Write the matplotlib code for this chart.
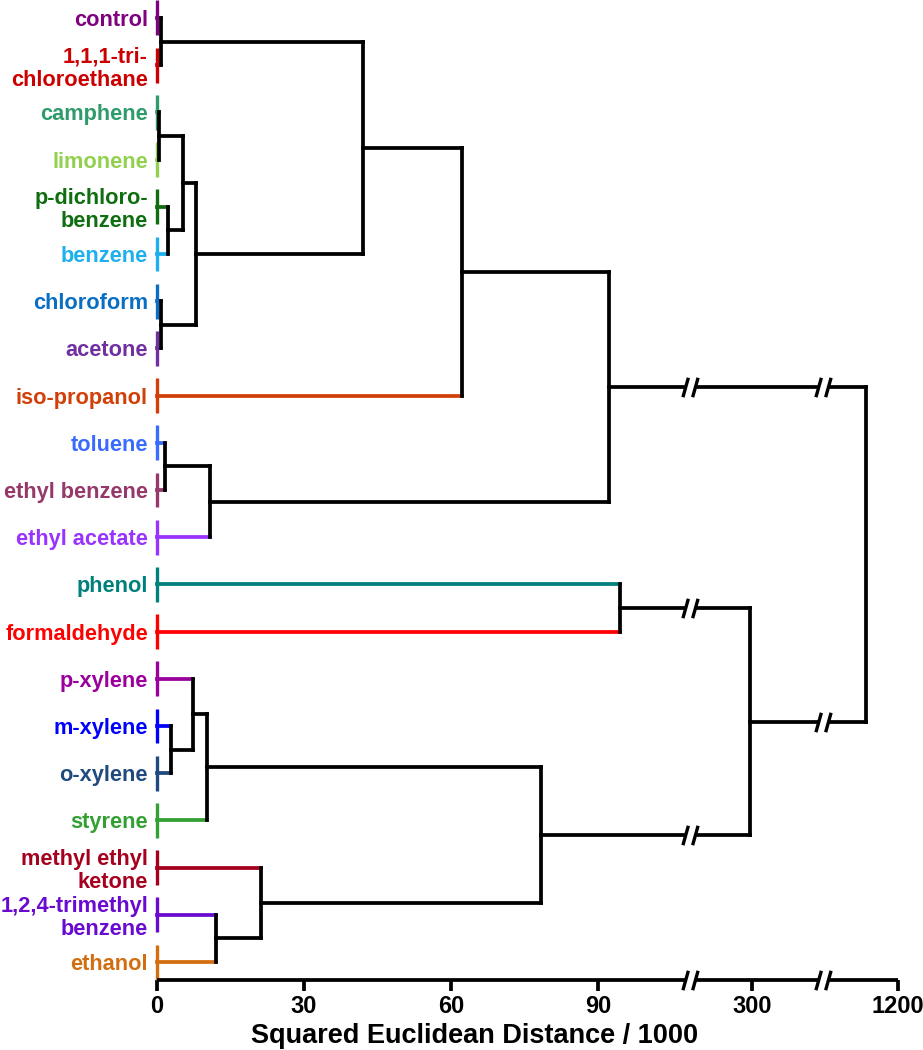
import matplotlib.pyplot as plt
from matplotlib.path import Path

plt.rcParams['font.family'] = ['Liberation Sans', 'DejaVu Sans']
plt.rcParams['font.weight'] = 'bold'

# compounds (top to bottom) and their colours
compounds = ['control', '1,1,1-tri-\nchloroethane', 'camphene', 'limonene',
             'p-dichloro-\nbenzene', 'benzene', 'chloroform', 'acetone',
             'iso-propanol', 'toluene', 'ethyl benzene', 'ethyl acetate',
             'phenol', 'formaldehyde', 'p-xylene', 'm-xylene', 'o-xylene',
             'styrene', 'methyl ethyl\nketone', '1,2,4-trimethyl\nbenzene', 'ethanol']
colors = ['#800080', '#CC0000', '#2E9B6A', '#92D050', '#0F6E0F', '#1EB0EE',
          '#0A6FC2', '#7030A0', '#D2400A', '#3A6BFF', '#96386A', '#9933FF',
          '#00807A', '#FF0000', '#99009C', '#0000FF', '#1F4A80', '#33A033',
          '#A5001E', '#6A0AD0', '#D36E10']

# linkage: clusters numbered from 21 upwards, height = squared euclidean distance / 1000
merge_a = [0, 2, 4, 22, 6, 24, 21, 27, 9, 29, 28, 12, 15, 14, 34, 19, 18, 35, 32, 31]
merge_b = [1, 3, 5, 23, 7, 25, 26, 8, 10, 11, 30, 13, 16, 33, 17, 20, 36, 37, 38, 39]
merge_h = [0.8, 0.4, 2.2, 5.3, 0.8, 8.0, 42.0, 62.2, 1.6, 10.8, 92.2, 94.5,
           2.9, 7.3, 10.2, 12.0, 21.2, 78.4, 296, 875]

# broken axis: (first value, last value, start on plot, units per value)
segments = [(0, 106, 0.0, 1.0), (201, 418, 111.5, 0.1), (570, 1200, 138.6, 0.02)]
tick_vals = [0, 30, 60, 90, 300, 1200]


def to_u(d):
    for lo, hi, start, k in segments:
        if d <= hi:
            return start + (d - lo) * k
    lo, hi, start, k = segments[-1]
    return start + (d - lo) * k


seg_u = [(start, start + (hi - lo) * k) for lo, hi, start, k in segments]
breaks = [(seg_u[i][1] + seg_u[i + 1][0]) / 2 for i in range(len(seg_u) - 1)]

slash = Path([(-0.78, -1), (-0.22, 1), (0.22, -1), (0.78, 1)],
             [Path.MOVETO, Path.LINETO, Path.MOVETO, Path.LINETO])

fig = plt.figure(figsize=(9.23, 10.5), dpi=100)
ax = fig.add_axes([157 / 923, 70 / 1050, 741 / 923, 980 / 1050])

n = len(compounds)
LW = 2.7


def put_breaks(u0, u1, y):
    for b in breaks:
        if min(u0, u1) < b < max(u0, u1):
            ax.plot(b, y, marker='s', ms=6.5, mfc='white', mec='none',
                    ls='none', zorder=6, clip_on=False)
            ax.plot(b, y, marker=slash, ms=14, mec='black', mew=2.4,
                    ls='none', zorder=7, clip_on=False)


# leaves: coloured replicate bars
node_y = {}
node_u = {}
for i in range(n):
    node_y[i] = i
    node_u[i] = 0.0
    ax.plot([0, 0], [i - 0.37, i + 0.37], color=colors[i], lw=2.4,
            solid_capstyle='butt', clip_on=False, zorder=3)

# links
for j, (a, b, h) in enumerate(zip(merge_a, merge_b, merge_h)):
    node = n + j
    u = to_u(h)
    for c in (a, b):
        col = colors[c] if c < n else 'black'
        ax.plot([node_u[c], u], [node_y[c], node_y[c]], color=col, lw=LW,
                solid_capstyle='projecting', zorder=4, clip_on=False)
        put_breaks(node_u[c], u, node_y[c])
    ax.plot([u, u], [node_y[a], node_y[b]], color='black', lw=LW,
            solid_capstyle='projecting', zorder=4, clip_on=False)
    node_y[node] = (node_y[a] + node_y[b]) / 2
    node_u[node] = u

# axes
ax.set_xlim(0, to_u(1200))
ax.set_ylim(n - 1 + 0.38, -0.38)
for s in ax.spines.values():
    s.set_visible(False)
y_axis = n - 1 + 0.38
ax.plot([0, to_u(1200)], [y_axis, y_axis], color='black', lw=LW,
        solid_capstyle='butt', clip_on=False, zorder=4)
put_breaks(0, to_u(1200), y_axis)

ax.set_xticks([to_u(v) for v in tick_vals], [str(v) for v in tick_vals])
ax.tick_params(axis='x', direction='out', length=8, width=2.7, pad=3,
               labelsize=17)
ax.set_xlabel('Squared Euclidean Distance / 1000', fontsize=19.5,
              fontweight='bold')
ax.xaxis.set_label_coords(0.428, -0.044)

ax.set_yticks(range(n), compounds)
ax.tick_params(axis='y', length=0, pad=6.5, labelsize=15.7)
for lab, col in zip(ax.get_yticklabels(), colors):
    lab.set_color(col)
    lab.set_fontweight('bold')
    lab.set_linespacing(1.12)
for lab in ax.get_xticklabels():
    lab.set_fontweight('bold')
    lab.set_family(['Liberation Sans Narrow', 'Liberation Sans'])

fig.savefig('out.png', dpi=100)
